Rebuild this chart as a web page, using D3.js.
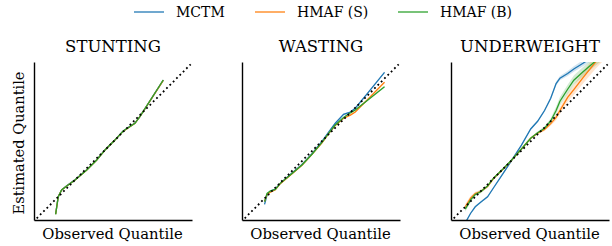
<!DOCTYPE html>
<html>
<head>
<meta charset="utf-8">
<script src="https://cdn.jsdelivr.net/npm/d3@7"></script>
<style>
  body { margin: 0; background: #fff; }
  svg { display: block; }
  text { font-family: "DejaVu Serif", "Liberation Serif", serif; fill: #000; }
</style>
</head>
<body>
<svg id="chart" width="612" height="246"></svg>
<script>
// ---------- data (normalised observed vs estimated quantiles) ----------
const seriesNames = ["MCTM", "HMAF (S)", "HMAF (B)"];
const seriesColors = ["#1f77b4", "#ff7f0e", "#2ca02c"];
const panelTitles = ["STUNTING", "WASTING", "UNDERWEIGHT"];

// STUNTING
const stuntingObs   = [0.123, 0.140, 0.162, 0.195, 0.249, 0.325, 0.390, 0.444, 0.508, 0.562, 0.638, 0.670, 0.822];
const stuntingMCTM  = [0.028, 0.141, 0.185, 0.211, 0.250, 0.315, 0.380, 0.445, 0.509, 0.567, 0.618, 0.661, 0.897];
const stuntingHMAFS = [0.027, 0.140, 0.184, 0.210, 0.249, 0.314, 0.379, 0.444, 0.508, 0.566, 0.617, 0.660, 0.896];
const stuntingHMAFB = [0.026, 0.140, 0.184, 0.210, 0.249, 0.314, 0.379, 0.444, 0.508, 0.567, 0.617, 0.660, 0.898];

// WASTING
const wastingObs   = [0.129, 0.145, 0.166, 0.199, 0.231, 0.296, 0.372, 0.437, 0.502, 0.545, 0.588, 0.642, 0.686, 0.718, 0.800, 0.908];
const wastingMCTM  = [0.090, 0.150, 0.175, 0.190, 0.227, 0.285, 0.350, 0.420, 0.500, 0.560, 0.617, 0.675, 0.690, 0.715, 0.815, 0.948];
const wastingHMAFS = [0.110, 0.155, 0.170, 0.185, 0.225, 0.280, 0.345, 0.415, 0.490, 0.550, 0.603, 0.650, 0.670, 0.690, 0.773, 0.883];
const wastingHMAFB = [0.108, 0.162, 0.177, 0.188, 0.227, 0.281, 0.346, 0.416, 0.493, 0.552, 0.606, 0.655, 0.685, 0.703, 0.769, 0.855];

// UNDERWEIGHT
const underObs   = [0.075, 0.110, 0.140, 0.175, 0.220, 0.260, 0.320, 0.370, 0.440, 0.500, 0.545, 0.590, 0.630, 0.665, 0.690, 0.740, 0.780, 0.840, 0.920, 0.970];
const underMCTM  = [-0.030, 0.033, 0.075, 0.105, 0.140, 0.200, 0.290, 0.367, 0.475, 0.580, 0.630, 0.700, 0.780, 0.875, 0.910, 0.940, 0.970, 1.007, 1.060, 1.090];
const underHMAFS = [0.075, 0.131, 0.160, 0.174, 0.207, 0.260, 0.318, 0.370, 0.450, 0.520, 0.553, 0.577, 0.615, 0.655, 0.700, 0.785, 0.835, 0.914, 1.013, 1.070];
const underHMAFB = [0.060, 0.120, 0.155, 0.172, 0.210, 0.262, 0.320, 0.372, 0.450, 0.520, 0.556, 0.585, 0.632, 0.700, 0.760, 0.838, 0.897, 0.952, 1.020, 1.060];
// half-widths of the shaded uncertainty bands (UNDERWEIGHT)
const underBandMCTM  = [0.006, 0.006, 0.006, 0.006, 0.006, 0.006, 0.006, 0.006, 0.006, 0.006, 0.006, 0.008, 0.010, 0.012, 0.014, 0.016, 0.018, 0.020, 0.022, 0.024];
const underBandHMAFS = [0.018, 0.016, 0.012, 0.010, 0.008, 0.007, 0.006, 0.006, 0.006, 0.007, 0.008, 0.010, 0.014, 0.018, 0.022, 0.028, 0.032, 0.038, 0.044, 0.048];
const underBandHMAFB = [0.018, 0.016, 0.012, 0.010, 0.008, 0.007, 0.006, 0.006, 0.006, 0.007, 0.008, 0.012, 0.018, 0.024, 0.028, 0.030, 0.030, 0.030, 0.030, 0.030];
const smallBand = 0.005;

const panels = [
  { title: panelTitles[0], obs: stuntingObs, ys: [stuntingMCTM, stuntingHMAFS, stuntingHMAFB], bands: null },
  { title: panelTitles[1], obs: wastingObs,  ys: [wastingMCTM, wastingHMAFS, wastingHMAFB], bands: null },
  { title: panelTitles[2], obs: underObs,    ys: [underMCTM, underHMAFS, underHMAFB], bands: [underBandMCTM, underBandHMAFS, underBandHMAFB] }
];

// ---------- layout ----------
const svg = d3.select("#chart");
const panelLefts = [34, 242, 451];
const plotW = 158, plotTop = 62, plotBottom = 220;

// legend
const legendX = [134, 255, 398];
seriesNames.forEach((name, i) => {
  const g = svg.append("g").attr("transform", `translate(${legendX[i]},12)`);
  g.append("line").attr("x1", 0).attr("x2", 30).attr("y1", 0).attr("y2", 0)
    .attr("stroke", seriesColors[i]).attr("stroke-width", 1.5).attr("stroke-opacity", 0.85);
  g.append("text").attr("x", 42).attr("y", 4.5).attr("font-size", 14).text(name);
});

panels.forEach((p, pi) => {
  const left = panelLefts[pi];
  const x = d3.scaleLinear().domain([-0.0175, 1.0085]).range([left, left + plotW]);
  const y = d3.scaleLinear().domain([-0.011, 1.015]).range([plotBottom, plotTop]);
  const g = svg.append("g");

  const clipId = "clip" + pi;
  svg.append("clipPath").attr("id", clipId).append("rect")
    .attr("x", left).attr("y", plotTop).attr("width", plotW).attr("height", plotBottom - plotTop);

  const plot = g.append("g").attr("clip-path", `url(#${clipId})`);

  // bands
  p.ys.forEach((ys, si) => {
    const bw = p.bands ? p.bands[si] : p.obs.map(() => smallBand);
    const area = d3.area()
      .x((d, i) => x(p.obs[i]))
      .y0((d, i) => y(ys[i] - bw[i]))
      .y1((d, i) => y(ys[i] + bw[i]));
    plot.append("path").attr("d", area(ys))
      .attr("fill", seriesColors[si]).attr("fill-opacity", 0.2).attr("stroke", "none");
  });
  // lines
  p.ys.forEach((ys, si) => {
    const line = d3.line().x((d, i) => x(p.obs[i])).y(d => y(d));
    plot.append("path").attr("d", line(ys))
      .attr("fill", "none").attr("stroke", seriesColors[si]).attr("stroke-width", 1.3);
  });
  // diagonal reference
  plot.append("line")
    .attr("x1", x(0)).attr("y1", y(0)).attr("x2", x(1)).attr("y2", y(1))
    .attr("stroke", "#000").attr("stroke-width", 1.8)
    .attr("stroke-dasharray", "1.8,2.9");

  // axes (left + bottom spines only, no ticks)
  const xAxis = d3.axisBottom(x).tickValues([]).tickSizeOuter(0);
  const yAxis = d3.axisLeft(y).tickValues([]).tickSizeOuter(0);
  g.append("g").attr("transform", `translate(0,${plotBottom})`).call(xAxis)
    .select(".domain").attr("stroke", "#000").attr("stroke-width", 1.4);
  g.append("g").attr("transform", `translate(${left},0)`).call(yAxis)
    .select(".domain").attr("stroke", "#000").attr("stroke-width", 1.4);

  // titles & labels
  g.append("text").attr("x", left + plotW / 2).attr("y", 52)
    .attr("text-anchor", "middle").attr("font-size", 16.5).text(p.title);
  g.append("text").attr("x", left + plotW / 2 - 0.5).attr("y", 239)
    .attr("text-anchor", "middle").attr("font-size", 14.8).text("Observed Quantile");
  if (pi === 0) {
    g.append("text").attr("transform", `translate(23.5,143) rotate(-90)`)
      .attr("text-anchor", "middle").attr("font-size", 14.6).text("Estimated Quantile");
  }
});
</script>
</body>
</html>
